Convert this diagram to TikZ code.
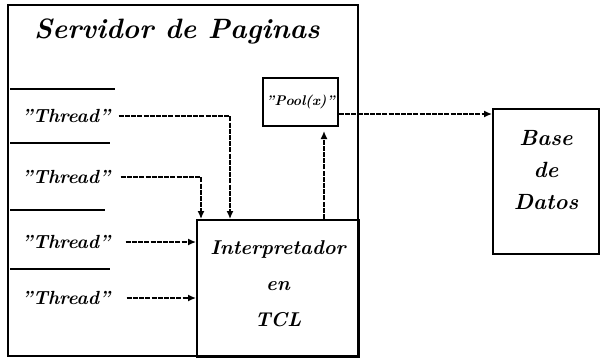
\documentclass[tikz,border=0pt]{standalone}
\usetikzlibrary{positioning,arrows.meta}

\begin{document}
\begin{tikzpicture}[
  x=0.5pt, y=-0.5pt,
  caja/.style={rectangle, draw, line width=1pt, inner sep=0pt, align=center},
  hilo/.style={inner sep=0pt, font=\fontsize{9.5}{11}\selectfont\bfseries\itshape},
  sep/.style={line width=1pt},
  flecha/.style={-{Latex[length=4pt,width=3.5pt]}, line width=0.7pt, dash pattern=on 2.5pt off 0.6pt}
]
\useasboundingbox (0,0) rectangle (600,361);
\draw[line width=1pt] (8,5) rectangle (358,356);
\node[font=\fontsize{14}{17}\selectfont\bfseries\itshape] (titulo) at (177,31) {Servidor de Paginas};

\node[caja, anchor=north west, minimum width=81pt, minimum height=68.5pt,
      font=\fontsize{10}{18}\selectfont\bfseries\itshape] (interp) at (196,219) {Interpretador\\en\\TCL\\[-13pt]~};
\node[caja, anchor=north west, minimum width=37.5pt, minimum height=24pt,
      font=\fontsize{7}{8}\selectfont\bfseries\itshape] (pool) at (262,77) {"Pool(x)"};
\node[caja, anchor=north west, minimum width=53pt, minimum height=72.5pt,
      font=\fontsize{11}{16}\selectfont\bfseries\itshape] (base) at (492,108) {Base\\de\\Datos\\[-4pt]~};

\foreach \y/\n in {116/1,177/2,242/3,298/4}
  \node[hilo] (t\n) at (66,\y) {"Thread"};
\foreach \y/\x in {89/115,143/110,210/105,269/110}
  \draw[sep] (10,\y) -- (\x,\y);

\coordinate (pb) at ([xshift=-7.5pt]pool.south east);

\draw[flecha, shorten <=4pt] (t1.east) -| ([xshift=17pt]interp.north west);
\draw[flecha, shorten <=5pt] (t2.east) -| ([xshift=2.5pt]interp.north west);
\draw[flecha, shorten <=7.5pt] (t3.east) -- (t3.east -| interp.west);
\draw[flecha, shorten <=8pt] (t4.east) -- (t4.east -| interp.west);
\draw[flecha, shorten >=2pt] (pb |- interp.north) -- (pb);
\draw[flecha] ([yshift=-6pt]pool.east) -- ([yshift=-6pt]pool.east -| base.west);
\end{tikzpicture}
\end{document}
